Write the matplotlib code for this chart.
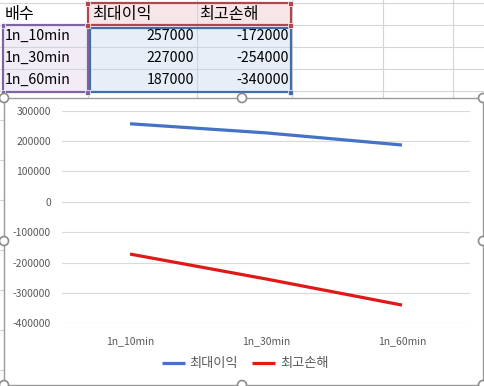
import matplotlib
matplotlib.use("Agg")
import matplotlib.pyplot as plt
from matplotlib.patches import Rectangle, Circle

plt.rcParams['font.family'] = ['Noto Sans CJK KR', 'DejaVu Sans']

# ---- data ----
header = ["배수", "최대이익", "최고손해"]
categories = ["1n_10min", "1n_30min", "1n_60min"]
max_profit = [257000, 227000, 187000]
max_loss = [-172000, -254000, -340000]
yticks = [300000, 200000, 100000, 0, -100000, -200000, -300000, -400000]

W, H = 485, 386
fig = plt.figure(figsize=(W / 100, H / 100), dpi=100)
fig.patch.set_facecolor("white")

# ---- spreadsheet background (pixel coordinates) ----
bg = fig.add_axes([0, 0, 1, 1])
bg.set_xlim(0, W)
bg.set_ylim(H, 0)
bg.axis("off")

grid_c = "#D4D4D4"
col_x = [88, 197, 292, 383, 453]
row_y = [3, 25, 47, 69, 91]
for x in col_x:
    bg.plot([x, x], [0, H], color=grid_c, lw=0.8, zorder=0)
for y in row_y:
    bg.plot([0, W], [y, y], color=grid_c, lw=0.8, zorder=0)
for y in [120, 160, 200, 250, 290, 330, 370]:
    bg.plot([0, W], [y, y], color=grid_c, lw=0.8, zorder=0)

# cell fills
bg.add_patch(Rectangle((88, 3), 203, 22, facecolor="#F7E6E8", edgecolor="none", zorder=1))
bg.add_patch(Rectangle((3, 25), 85, 67, facecolor="#F1ECF5", edgecolor="none", zorder=1))
bg.add_patch(Rectangle((90, 27), 201, 65, facecolor="#E7EEF8", edgecolor="none", zorder=1))
for y in [47, 69]:
    bg.plot([3, 291], [y, y], color="#D0D4DC", lw=0.8, zorder=1.5)
bg.plot([197, 197], [3, 92], color="#D0D4DC", lw=0.8, zorder=1.5)

# range selection borders
bg.add_patch(Rectangle((88, 3), 203, 22, facecolor="none", edgecolor="#B04650", lw=1.6, zorder=2))
bg.add_patch(Rectangle((3, 25), 85, 67, facecolor="none", edgecolor="#8064A2", lw=1.6, zorder=2))
bg.add_patch(Rectangle((90, 27.5), 201, 64.5, facecolor="none", edgecolor="#3F6EA8", lw=1.6, zorder=2))
for (x, y, c) in [(88, 3, "#B04650"), (291, 3, "#B04650"), (88, 25, "#B04650"), (291, 25, "#B04650"),
                  (3, 25, "#8064A2"), (88, 92, "#8064A2"), (3, 92, "#8064A2"), (291, 92, "#3F6EA8")]:
    bg.add_patch(Rectangle((x - 2.5, y - 2.5), 5, 5, facecolor=c, edgecolor="white", lw=0.5, zorder=3))

tfs = 10.2
hfs = 11.6
bg.text(5, 14, header[0], fontsize=hfs, va="center", ha="left", zorder=4)
bg.text(92, 14, header[1], fontsize=hfs, va="center", ha="left", zorder=4)
bg.text(199, 14, header[2], fontsize=hfs, va="center", ha="left", zorder=4)
for i, cat in enumerate(categories):
    yc = 36 + 22 * i
    bg.text(5, yc, cat, fontsize=tfs, va="center", ha="left", zorder=4)
    bg.text(194, yc, str(max_profit[i]), fontsize=tfs, va="center", ha="right", zorder=4)
    bg.text(289, yc, str(max_loss[i]), fontsize=tfs, va="center", ha="right", zorder=4)

# chart frame
bg.add_patch(Rectangle((4, 98), 479, 287, facecolor="white", edgecolor="#9A9A9A", lw=1.0, zorder=5))
for (x, y) in [(4, 98), (242, 98), (483, 98), (4, 241), (483, 241), (4, 385), (242, 385), (483, 385)]:
    bg.add_patch(Circle((x, y), 4.5, facecolor="white", edgecolor="#8C8C8C", lw=1.2, zorder=6))

# ---- chart ----
left, right = 62, 470
top, bottom = 110.7, 323.3
ax = fig.add_axes([left / W, 1 - bottom / H, (right - left) / W, (bottom - top) / H])
ax.set_zorder(10)
ax.patch.set_alpha(0)

x = range(len(categories))
ax.plot(x, max_profit, color="#4472C4", lw=2.3, solid_capstyle="butt", label=header[1])
ax.plot(x, max_loss, color="#E01818", lw=2.3, solid_capstyle="butt", label=header[2])

ax.set_xlim(-0.5, len(categories) - 0.5)
ax.set_ylim(min(yticks), max(yticks))
ax.set_yticks(yticks)
ax.set_yticklabels([str(v) for v in yticks])
ax.set_xticks(list(x))
ax.set_xticklabels(categories)
ax.grid(axis="y", color="#D9D9D9", lw=0.8)
ax.set_axisbelow(True)
for s in ax.spines.values():
    s.set_visible(False)
ax.tick_params(axis="both", length=0, labelsize=7.5, colors="#595959")
ax.tick_params(axis="y", pad=8)
ax.tick_params(axis="x", pad=9)

leg = ax.legend(loc="center", bbox_to_anchor=(245 / W, (H - 364) / H), bbox_transform=fig.transFigure,
                ncol=2, frameon=False, fontsize=9.5, handlelength=1.75, columnspacing=1.1,
                handletextpad=0.35)
for t in leg.get_texts():
    t.set_color("#595959")

fig.savefig("out.png", dpi=100)
